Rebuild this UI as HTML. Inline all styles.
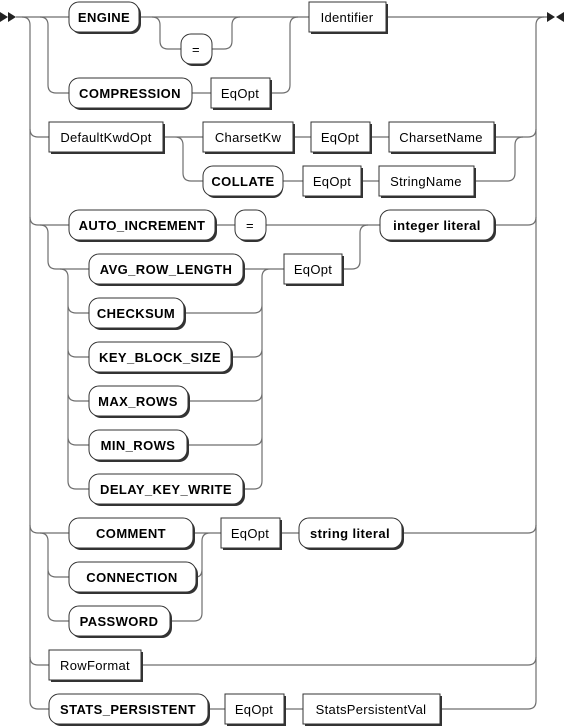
<!DOCTYPE html>
<html><head><meta charset="utf-8"><style>
html,body{margin:0;padding:0;background:#fff;}
svg{display:block;}
.l{fill:none;stroke:#6e6e6e;stroke-width:1.2;}
.sh{fill:#333;}
.b{fill:#fff;stroke:#333;stroke-width:1;}
.t{font-family:"Liberation Sans",sans-serif;font-size:13px;letter-spacing:0.4px;font-weight:bold;fill:#000;text-anchor:middle;}
.n{font-family:"Liberation Sans",sans-serif;font-size:13px;letter-spacing:0.3px;fill:#000;text-anchor:middle;}
</style></head><body>
<svg width="564" height="728" viewBox="0 0 564 728" xmlns="http://www.w3.org/2000/svg">
<polygon points="0,12 8,17 0,22" fill="#222"/>
<polygon points="8,12 16,17 8,22" fill="#222"/>
<polygon points="547,12 555,17 547,22" fill="#222"/>
<polygon points="564,12 556,17 564,22" fill="#222"/>

<path class="l" d="M16 17 H69 M139 17 H309 M386 17 H547"/>
<path class="l" d="M22 17 Q30 17 30 25 V701 Q30 709 38 709 H49"/>
<path class="l" d="M30 129 Q30 137 38 137 H49 M30 217 Q30 225 38 225 H69 M30 525 Q30 533 38 533 H69 M30 657 Q30 665 38 665 H49"/>
<path class="l" d="M536 701 V25 Q536 17 544 17"/>
<path class="l" d="M40 17 Q48 17 48 25 V85 Q48 93 56 93 H69 M192 93 H211 M270 93 H282 Q290 93 290 85 V25 Q290 17 298 17"/>
<path class="l" d="M152 17 Q160 17 160 25 V41 Q160 49 168 49 H181 M212 49 H224 Q232 49 232 41 V25 Q232 17 240 17"/>
<path class="l" d="M163 137 H203 M175 137 Q183 137 183 145 V173 Q183 181 191 181 H203 M293 137 H311 M370 137 H389 M494 137 H528 Q536 137 536 129"/>
<path class="l" d="M283 181 H303 M361 181 H379 M474 181 H507 Q515 181 515 173 V145 Q515 137 523 137"/>
<path class="l" d="M215 225 H235 M266 225 H380 M494 225 H528 Q536 225 536 217"/>
<path class="l" d="M40 225 Q48 225 48 233 V261 Q48 269 56 269 H89"/>
<path class="l" d="M60 269 Q68 269 68 277 V481 Q68 489 76 489 H89 M68 305 Q68 313 76 313 H89 M68 349 Q68 357 76 357 H89 M68 393 Q68 401 76 401 H89 M68 437 Q68 445 76 445 H89"/>
<path class="l" d="M243 269 H284 M184 313 H254 Q262 313 262 305 M231 357 H254 Q262 357 262 349 M188 401 H254 Q262 401 262 393 M187 445 H254 Q262 445 262 437 M243 489 H254 Q262 489 262 481 V277 Q262 269 270 269"/>
<path class="l" d="M342 269 H352 Q360 269 360 261 V233 Q360 225 368 225"/>
<path class="l" d="M40 533 Q48 533 48 541 V613 Q48 621 56 621 H69 M48 569 Q48 577 56 577 H69"/>
<path class="l" d="M193 533 H221 M196 577 Q202 577 202 569 M170 621 H194 Q202 621 202 613 V541 Q202 533 210 533 M280 533 H299 M402 533 H528 Q536 533 536 525"/>
<path class="l" d="M141 665 H528 Q536 665 536 657"/>
<path class="l" d="M208 709 H225 M284 709 H303 M440 709 H528 Q536 709 536 701"/>

<g>
<rect class="sh" x="71" y="4" width="70" height="30" rx="10"/><rect class="b" x="69" y="2" width="70" height="30" rx="10"/><text class="t" x="104" y="22">ENGINE</text>
<rect class="sh" x="183" y="36" width="29" height="30" rx="10"/><rect class="b" x="181" y="34" width="31" height="30" rx="10"/><text class="n" x="196" y="54">=</text>
<rect class="sh" x="71" y="80" width="121" height="30" rx="10"/><rect class="b" x="69" y="78" width="123" height="30" rx="10"/><text class="t" x="130" y="98">COMPRESSION</text>
<rect class="sh" x="205" y="168" width="78" height="30" rx="10"/><rect class="b" x="203" y="166" width="80" height="30" rx="10"/><text class="t" x="243" y="186">COLLATE</text>
<rect class="sh" x="71" y="212" width="146" height="30" rx="10"/><rect class="b" x="69" y="210" width="146" height="30" rx="10"/><text class="t" x="142" y="230">AUTO_INCREMENT</text>
<rect class="sh" x="237" y="212" width="29" height="30" rx="10"/><rect class="b" x="235" y="210" width="31" height="30" rx="10"/><text class="n" x="250" y="230">=</text>
<rect class="sh" x="382" y="212" width="114" height="30" rx="10"/><rect class="b" x="380" y="210" width="114" height="30" rx="10"/><text class="t" x="437" y="230">integer literal</text>
<rect class="sh" x="91" y="256" width="154" height="30" rx="10"/><rect class="b" x="89" y="254" width="154" height="30" rx="10"/><text class="t" x="166" y="274">AVG_ROW_LENGTH</text>
<rect class="sh" x="91" y="300" width="95" height="30" rx="10"/><rect class="b" x="89" y="298" width="95" height="30" rx="10"/><text class="t" x="136" y="318">CHECKSUM</text>
<rect class="sh" x="91" y="344" width="142" height="30" rx="10"/><rect class="b" x="89" y="342" width="142" height="30" rx="10"/><text class="t" x="160" y="362">KEY_BLOCK_SIZE</text>
<rect class="sh" x="91" y="388" width="99" height="30" rx="10"/><rect class="b" x="89" y="386" width="99" height="30" rx="10"/><text class="t" x="138" y="406">MAX_ROWS</text>
<rect class="sh" x="91" y="432" width="98" height="30" rx="10"/><rect class="b" x="89" y="430" width="98" height="30" rx="10"/><text class="t" x="138" y="450">MIN_ROWS</text>
<rect class="sh" x="91" y="476" width="154" height="30" rx="10"/><rect class="b" x="89" y="474" width="154" height="30" rx="10"/><text class="t" x="166" y="494">DELAY_KEY_WRITE</text>
<rect class="sh" x="71" y="520" width="124" height="30" rx="10"/><rect class="b" x="69" y="518" width="124" height="30" rx="10"/><text class="t" x="131" y="538">COMMENT</text>
<rect class="sh" x="71" y="564" width="127" height="30" rx="10"/><rect class="b" x="69" y="562" width="127" height="30" rx="10"/><text class="t" x="132" y="582">CONNECTION</text>
<rect class="sh" x="71" y="608" width="101" height="30" rx="10"/><rect class="b" x="69" y="606" width="101" height="30" rx="10"/><text class="t" x="119" y="626">PASSWORD</text>
<rect class="sh" x="301" y="520" width="103" height="30" rx="10"/><rect class="b" x="299" y="518" width="103" height="30" rx="10"/><text class="t" x="350" y="538">string literal</text>
<rect class="sh" x="51" y="696" width="159" height="30" rx="10"/><rect class="b" x="49" y="694" width="159" height="30" rx="10"/><text class="t" x="128" y="714">STATS_PERSISTENT</text>
</g>
<g>
<rect class="sh" x="311" y="4" width="77" height="30"/><rect class="b" x="309" y="2" width="77" height="30"/><text class="n" x="347" y="22">Identifier</text>
<rect class="sh" x="213" y="80" width="59" height="30"/><rect class="b" x="211" y="78" width="59" height="30"/><text class="n" x="240" y="98">EqOpt</text>
<rect class="sh" x="51" y="124" width="114" height="30"/><rect class="b" x="49" y="122" width="114" height="30"/><text class="n" x="106" y="142">DefaultKwdOpt</text>
<rect class="sh" x="205" y="124" width="90" height="30"/><rect class="b" x="203" y="122" width="90" height="30"/><text class="n" x="248" y="142">CharsetKw</text>
<rect class="sh" x="313" y="124" width="59" height="30"/><rect class="b" x="311" y="122" width="59" height="30"/><text class="n" x="340" y="142">EqOpt</text>
<rect class="sh" x="391" y="124" width="105" height="30"/><rect class="b" x="389" y="122" width="105" height="30"/><text class="n" x="441" y="142">CharsetName</text>
<rect class="sh" x="305" y="168" width="58" height="30"/><rect class="b" x="303" y="166" width="58" height="30"/><text class="n" x="332" y="186">EqOpt</text>
<rect class="sh" x="381" y="168" width="95" height="30"/><rect class="b" x="379" y="166" width="95" height="30"/><text class="n" x="426" y="186">StringName</text>
<rect class="sh" x="286" y="256" width="58" height="30"/><rect class="b" x="284" y="254" width="58" height="30"/><text class="n" x="313" y="274">EqOpt</text>
<rect class="sh" x="223" y="520" width="59" height="30"/><rect class="b" x="221" y="518" width="59" height="30"/><text class="n" x="250" y="538">EqOpt</text>
<rect class="sh" x="51" y="652" width="92" height="30"/><rect class="b" x="49" y="650" width="92" height="30"/><text class="n" x="95" y="670">RowFormat</text>
<rect class="sh" x="227" y="696" width="59" height="30"/><rect class="b" x="225" y="694" width="59" height="30"/><text class="n" x="254" y="714">EqOpt</text>
<rect class="sh" x="305" y="696" width="137" height="30"/><rect class="b" x="303" y="694" width="137" height="30"/><text class="n" x="371" y="714">StatsPersistentVal</text>
</g>
</svg>
</body></html>
